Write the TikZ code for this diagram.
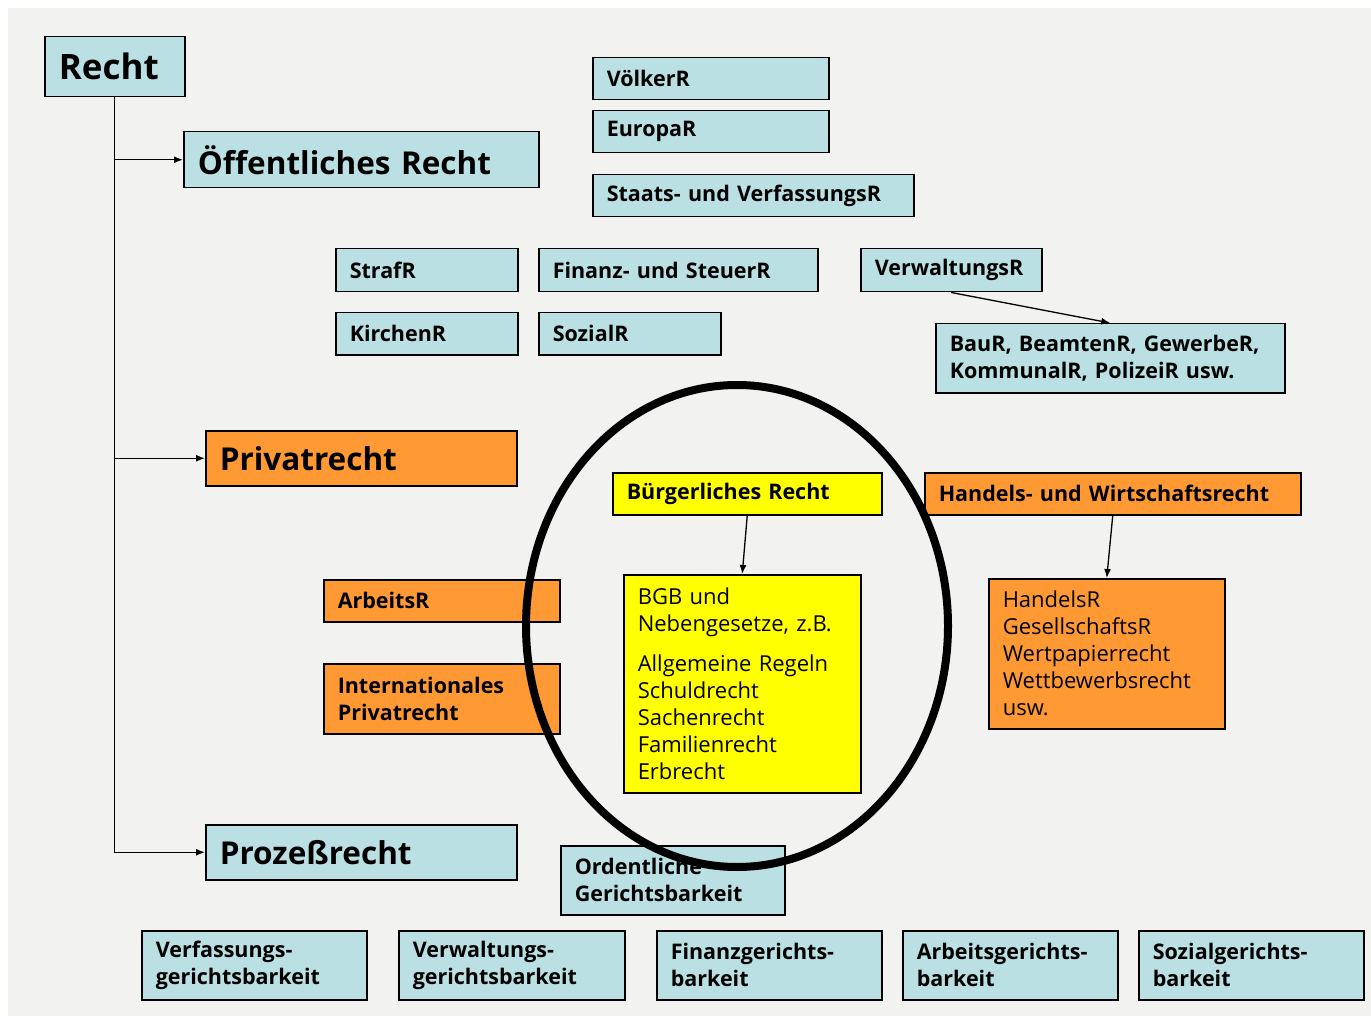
\documentclass[tikz,border=0pt]{standalone}
\usepackage{fontspec}
\setmainfont{Open Sans}
\usetikzlibrary{arrows.meta}
\usetikzlibrary{shapes}
\definecolor{rechtblue}{HTML}{BAE0E3}
\definecolor{privorange}{HTML}{FF9933}
\definecolor{buergyellow}{HTML}{FFFF00}
\definecolor{bggray}{HTML}{F2F2F0}
\tikzset{
        box/.style={draw=black, line width=1.5pt, anchor=north west, align=left, inner xsep=14pt, inner ysep=0pt},
        % Text sizes
        txt_small/.style={font=\bfseries\fontsize{21.5}{27}\selectfont},
        txt_plain/.style={font=\fontsize{22}{27}\selectfont},
        txt_big/.style={font=\bfseries\fontsize{31.5}{40}\selectfont},
        % Public law and procedure
        box_blue/.style={box, fill=rechtblue},
        % Private law
        box_orange/.style={box, fill=privorange},
        % Civil law
        box_yellow/.style={box, fill=buergyellow},
        link/.style={line width=1.3pt, -{Latex[length=9pt,width=7pt]}}
}
\begin{document}
\begin{tikzpicture}[x=1pt, y=-1pt]
    \useasboundingbox (0,0) rectangle (1371,1016);
    \fill[bggray] (8,8) rectangle (1371,1016);

    % top level
    \node[box_blue, font=\bfseries\fontsize{35}{44}\selectfont, text width=112pt, minimum height=60pt] (recht) at (44,36) {Recht};
    \node[box_blue, txt_big, text width=327pt, minimum height=56pt] (oeff) at (183,131) {Öffentliches Recht};
    \node[box_orange, txt_big, text width=283pt, minimum height=55pt] (privat) at (205,430) {Privatrecht};
    \node[box_blue, txt_big, text width=283pt, minimum height=55pt] (prozess) at (205,824) {Prozeßrecht};

    % Öffentliches Recht
    \node[box_blue, txt_small, text width=208pt, minimum height=42pt] (voelker) at (592,57) {VölkerR};
    \node[box_blue, txt_small, text width=208pt, minimum height=42pt] (europa) at (592,110) {EuropaR};
    \node[box_blue, txt_small, text width=293pt, minimum height=42pt] (staats) at (592,174) {Staats- und VerfassungsR};
    \node[box_blue, txt_small, text width=154pt, minimum height=43pt] (straf) at (335,248) {StrafR};
    \node[box_blue, txt_small, text width=251pt, minimum height=43pt] (finanz) at (538,248) {Finanz- und SteuerR};
    \node[box_blue, txt_small, text width=153pt, minimum height=43pt] (verw) at (860,248) {VerwaltungsR};
    \node[box_blue, txt_small, text width=154pt, minimum height=42pt] (kirchen) at (335,312) {KirchenR};
    \node[box_blue, txt_small, text width=154pt, minimum height=42pt] (sozial) at (538,312) {SozialR};
    \node[box_blue, txt_small, text width=321pt, minimum height=69pt] (bau) at (935,323) {BauR, BeamtenR, GewerbeR,\\KommunalR, PolizeiR usw.};

    % Privatrecht
    \node[box_yellow, txt_small, text width=241pt, minimum height=42pt] (buerg) at (612,472) {Bürgerliches Recht};
    \node[box_orange, txt_small, text width=348pt, minimum height=42pt] (handels) at (924,472) {Handels- und Wirtschaftsrecht};
    \node[box_orange, txt_small, text width=208pt, minimum height=42pt] (arbeits) at (323,579) {ArbeitsR};
    \node[box_orange, txt_small, text width=208pt, minimum height=70pt] (intpriv) at (323,663) {Internationales\\Privatrecht};
    \node[box_yellow, txt_plain, text width=209pt, minimum height=218pt] (bgb) at (623,574)
        {BGB und\\Nebengesetze, z.B.\\[13pt]Allgemeine Regeln\\Schuldrecht\\Sachenrecht\\Familienrecht\\Erbrecht};
    \node[box_orange, txt_plain, text width=208pt, minimum height=150pt] (hgb) at (988,578)
        {HandelsR\\GesellschaftsR\\Wertpapierrecht\\Wettbewerbsrecht\\usw.};

    % Prozeßrecht
    \node[box_blue, txt_small, text width=196pt, minimum height=69pt] (ordentl) at (560,845) {Ordentliche\\Gerichtsbarkeit};
    \node[box_blue, txt_small, text width=197pt, minimum height=69pt] (vfg) at (141,930) {Verfassungs-\\gerichtsbarkeit};
    \node[box_blue, txt_small, text width=198pt, minimum height=69pt] (vwg) at (398,930) {Verwaltungs-\\gerichtsbarkeit};
    \node[box_blue, txt_small, text width=197pt, minimum height=69pt] (fg) at (656,930) {Finanzgerichts-\\barkeit};
    \node[box_blue, txt_small, text width=187pt, minimum height=69pt] (ag) at (902,930) {Arbeitsgerichts-\\barkeit};
    \node[box_blue, txt_small, text width=197pt, minimum height=69pt] (sg) at (1138,930) {Sozialgerichts-\\barkeit};

    % connectors
    \draw[link] (recht.south) |- (oeff.west);
    \draw[link] (recht.south) |- (privat.west);
    \draw[link] (recht.south) |- (prozess.west);
    \draw[link] (verw.south) -- (bau.north);
    \draw[link] (buerg.south) -- (bgb.north);
    \draw[link] (handels.south) -- (hgb.north);

    % Ring round Bürgerliches Recht
    \draw[line width=8pt] (737,626) ellipse (211 and 241);
\end{tikzpicture}
\end{document}
